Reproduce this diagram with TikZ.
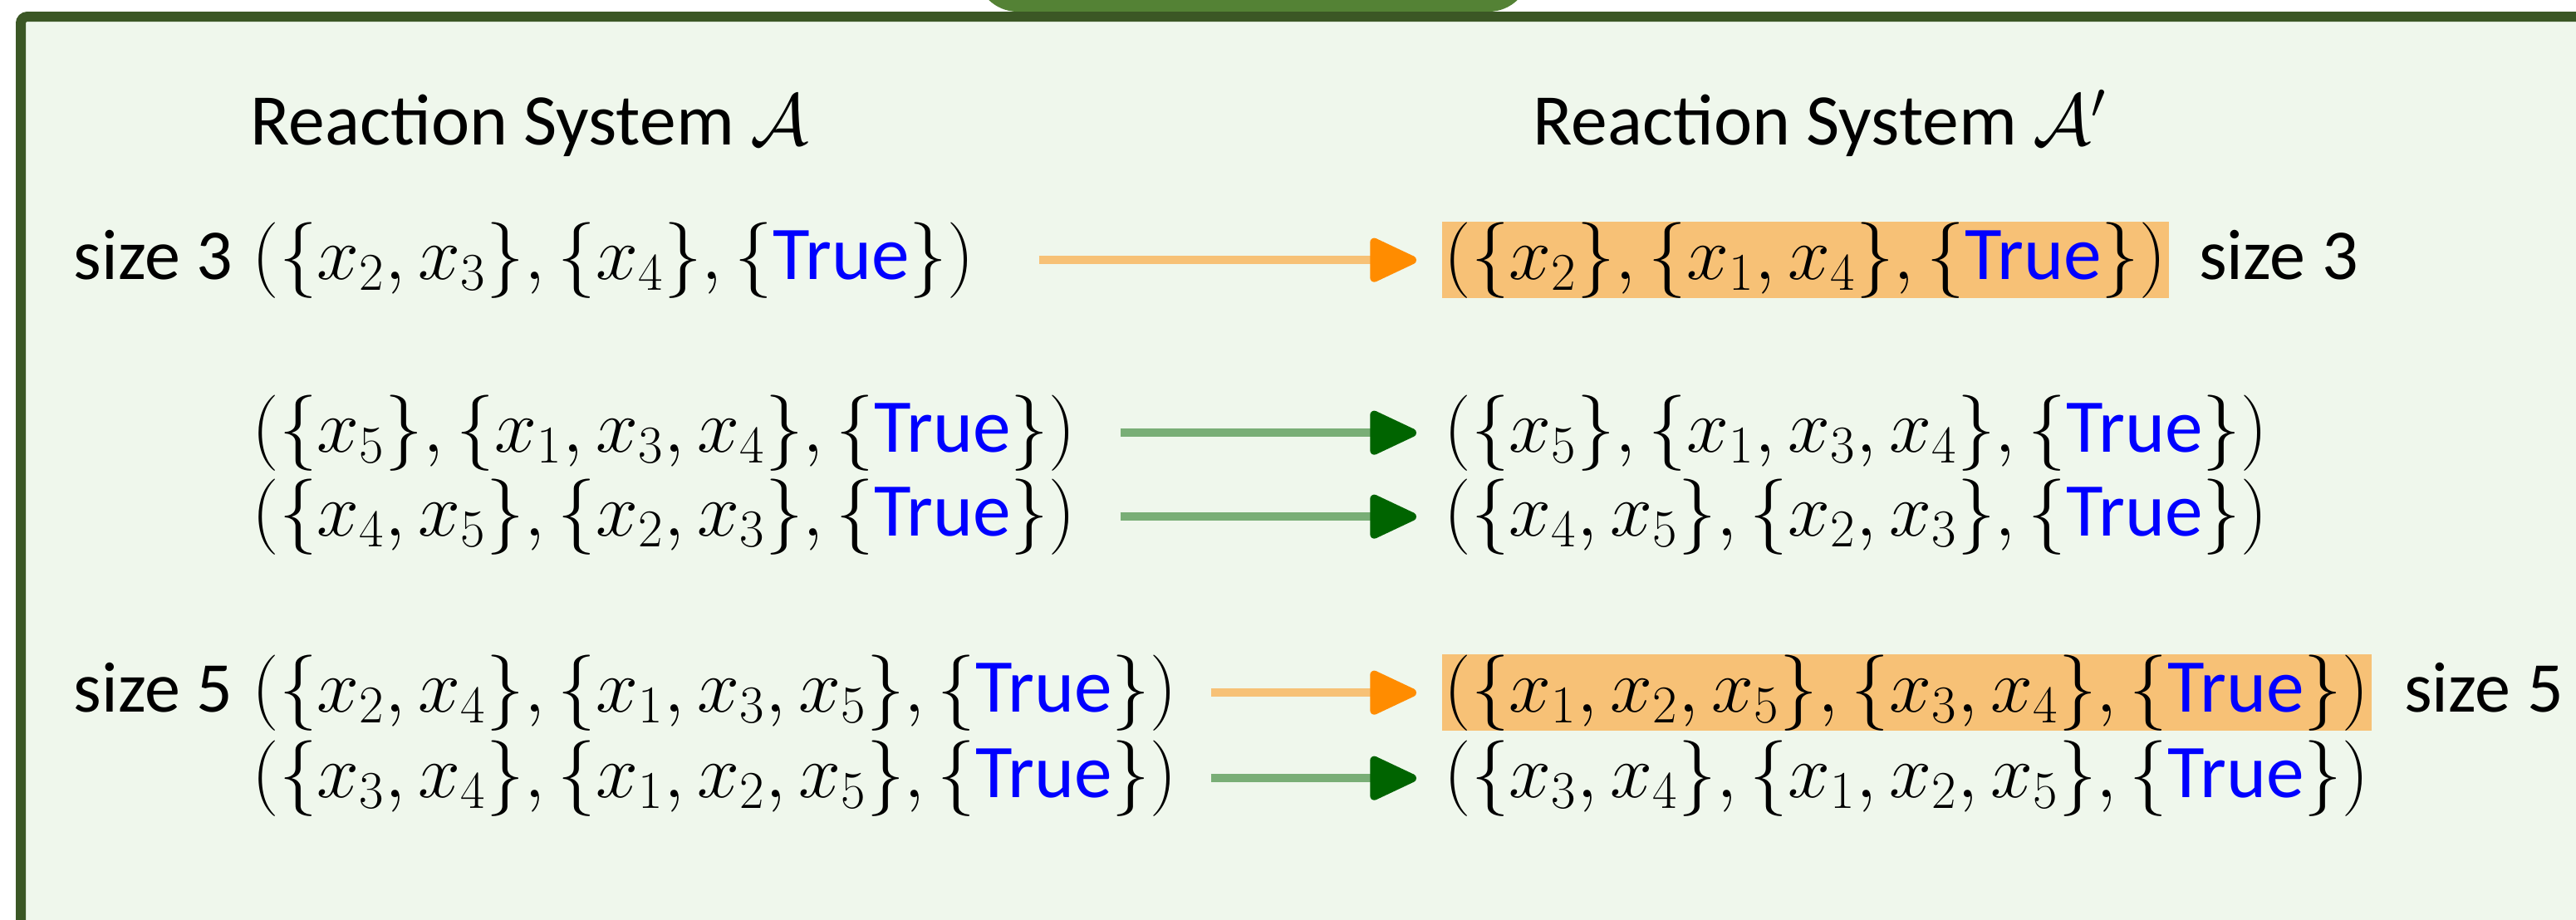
\RequirePackage{fix-cm}
\documentclass[tikz,border=0pt]{standalone}
\usepackage{amsmath}
\usepackage{fontspec}
\setmainfont{Carlito}
\usepackage{xcolor}
\usepackage{tikz}
\usetikzlibrary{arrows.meta, positioning}

\definecolor{panelbg}{RGB}{239,247,236}
\definecolor{panelframe}{RGB}{59,87,37}
\definecolor{tabgreen}{RGB}{84,130,53}
\definecolor{hlorange}{RGB}{247,193,118}
\definecolor{tiporange}{RGB}{255,140,0}
\definecolor{keepline}{RGB}{121,174,118}
\definecolor{tipgreen}{RGB}{0,100,0}

\newcommand{\tru}{\text{\color{blue}True}}

\begin{document}
\begin{tikzpicture}[
    expr/.style={anchor=base west, inner xsep=0.03cm, inner ysep=0pt, font=\fontsize{26}{31}\selectfont},
    hl/.style={expr, fill=hlorange},
    sizelbl/.style={inner sep=0pt, font=\fontsize{24.5}{29}\selectfont},
    heading/.style={anchor=base west, inner sep=0pt, font=\fontsize{24.9}{30}\selectfont},
    keep/.style={line width=0.1cm, draw=keepline, -{Triangle[round, length=6.3mm, width=5.6mm, color=tipgreen]}, shorten >=0.3cm},
    change/.style={line width=0.1cm, draw=hlorange, -{Triangle[round, length=6.3mm, width=5.6mm, color=tiporange]}, shorten >=0.3cm}
]
\useasboundingbox (0,0) rectangle (31.01,-11.07);

% Panel with title tab
\fill[tabgreen, rounded corners=0.5cm] (11.75,1) rectangle (18.42,-0.14);
\draw[panelframe, line width=0.12cm, fill=panelbg, rounded corners=0.08cm] (0.25,-0.20) rectangle (33,-13);

% Headings
\node[heading] (hA) at (3.01,-1.74) {Reaction System $\mathcal{A}$};
\node[heading] (hB) at (18.45,-1.74) {Reaction System $\mathcal{A}'$};

% Left column
\node[expr] (l1) at (3.00,-3.36) {$(\{x_2,x_3\},\{x_4\},\{\tru\})$};
\node[expr] (l2) at (3.00,-5.44) {$(\{x_5\},\{x_1,x_3,x_4\},\{\tru\})$};
\node[expr] (l3) at (3.00,-6.45) {$(\{x_4,x_5\},\{x_2,x_3\},\{\tru\})$};
\node[expr] (l4) at (3.00,-8.57) {$(\{x_2,x_4\},\{x_1,x_3,x_5\},\{\tru\})$};
\node[expr] (l5) at (3.00,-9.60) {$(\{x_3,x_4\},\{x_1,x_2,x_5\},\{\tru\})$};

% Right column
\node[hl] (r1) at (17.35,-3.36) {$(\{x_2\},\{x_1,x_4\},\{\tru\})$};
\node[expr] (r2) at (17.35,-5.44) {$(\{x_5\},\{x_1,x_3,x_4\},\{\tru\})$};
\node[expr] (r3) at (17.35,-6.45) {$(\{x_4,x_5\},\{x_2,x_3\},\{\tru\})$};
\node[hl] (r4) at (17.35,-8.57) {$(\{x_1,x_2,x_5\},\{x_3,x_4\},\{\tru\})$};
\node[expr] (r5) at (17.35,-9.60) {$(\{x_3,x_4\},\{x_1,x_2,x_5\},\{\tru\})$};

% Size labels
\node[sizelbl, base left=0.19cm of l1] (s1) {size 3};
\node[sizelbl, base left=0.19cm of l4] (s4) {size 5};
\node[sizelbl, base right=0.35cm of r1] (t1) {size 3};
\node[sizelbl, base right=0.38cm of r4] (t4) {size 5};

% Arrows
\draw[change, shorten <=0.74cm] (l1) -- (r1);
\draw[keep, shorten <=0.50cm] (l2) -- (r2);
\draw[keep, shorten <=0.50cm] (l3) -- (r3);
\draw[change, shorten <=0.37cm] (l4) -- (r4);
\draw[keep, shorten <=0.37cm] (l5) -- (r5);

\end{tikzpicture}
\end{document}
